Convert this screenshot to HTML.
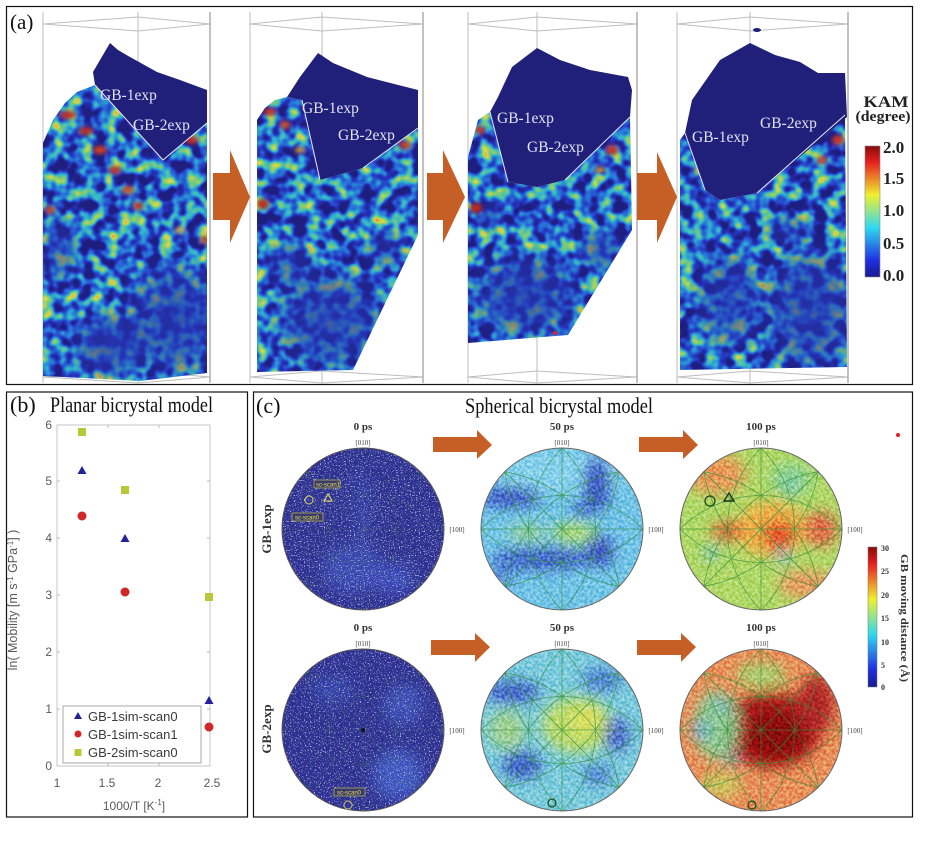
<!DOCTYPE html>
<html><head><meta charset="utf-8"><style>html,body{margin:0;padding:0;background:#fff}svg{display:block}</style></head>
<body>
<svg width="935" height="841" viewBox="0 0 935 841" xmlns="http://www.w3.org/2000/svg" xmlns:xlink="http://www.w3.org/1999/xlink">
<defs>
<filter id="kam1" x="0" y="0" width="1" height="1" color-interpolation-filters="sRGB">
<feTurbulence type="fractalNoise" baseFrequency="0.075" numOctaves="2" seed="3"/>
<feColorMatrix type="matrix" values="1.35 0 0 0 -0.45 1.35 0 0 0 -0.45 1.35 0 0 0 -0.45 0 0 0 0 1"/>
<feComponentTransfer><feFuncR type="table" tableValues="0.12 0.15 0.15 0.2 0.5 0.85 0.9 0.85 0.55"/><feFuncG type="table" tableValues="0.12 0.2 0.45 0.72 0.8 0.85 0.55 0.2 0.05"/><feFuncB type="table" tableValues="0.5 0.75 0.85 0.8 0.45 0.3 0.2 0.15 0.05"/></feComponentTransfer>
</filter>
<filter id="kam2" x="0" y="0" width="1" height="1" color-interpolation-filters="sRGB">
<feTurbulence type="fractalNoise" baseFrequency="0.075" numOctaves="2" seed="8"/>
<feColorMatrix type="matrix" values="1.35 0 0 0 -0.45 1.35 0 0 0 -0.45 1.35 0 0 0 -0.45 0 0 0 0 1"/>
<feComponentTransfer><feFuncR type="table" tableValues="0.12 0.15 0.15 0.2 0.5 0.85 0.9 0.85 0.55"/><feFuncG type="table" tableValues="0.12 0.2 0.45 0.72 0.8 0.85 0.55 0.2 0.05"/><feFuncB type="table" tableValues="0.5 0.75 0.85 0.8 0.45 0.3 0.2 0.15 0.05"/></feComponentTransfer>
</filter>
<filter id="kam3" x="0" y="0" width="1" height="1" color-interpolation-filters="sRGB">
<feTurbulence type="fractalNoise" baseFrequency="0.075" numOctaves="2" seed="15"/>
<feColorMatrix type="matrix" values="1.35 0 0 0 -0.45 1.35 0 0 0 -0.45 1.35 0 0 0 -0.45 0 0 0 0 1"/>
<feComponentTransfer><feFuncR type="table" tableValues="0.12 0.15 0.15 0.2 0.5 0.85 0.9 0.85 0.55"/><feFuncG type="table" tableValues="0.12 0.2 0.45 0.72 0.8 0.85 0.55 0.2 0.05"/><feFuncB type="table" tableValues="0.5 0.75 0.85 0.8 0.45 0.3 0.2 0.15 0.05"/></feComponentTransfer>
</filter>
<filter id="kam4" x="0" y="0" width="1" height="1" color-interpolation-filters="sRGB">
<feTurbulence type="fractalNoise" baseFrequency="0.075" numOctaves="2" seed="27"/>
<feColorMatrix type="matrix" values="1.35 0 0 0 -0.45 1.35 0 0 0 -0.45 1.35 0 0 0 -0.45 0 0 0 0 1"/>
<feComponentTransfer><feFuncR type="table" tableValues="0.12 0.15 0.15 0.2 0.5 0.85 0.9 0.85 0.55"/><feFuncG type="table" tableValues="0.12 0.2 0.45 0.72 0.8 0.85 0.55 0.2 0.05"/><feFuncB type="table" tableValues="0.5 0.75 0.85 0.8 0.45 0.3 0.2 0.15 0.05"/></feComponentTransfer>
</filter>
<filter id="sp1" x="0" y="0" width="1" height="1" color-interpolation-filters="sRGB">
<feTurbulence type="fractalNoise" baseFrequency="0.8" numOctaves="1" seed="11"/>
<feColorMatrix type="matrix" values="0 0 0 0 0.8 0 0 0 0 0.82 0 0 0 0 0.95 6.5 0 0 0 -3.75"/>
</filter>
<filter id="sp2" x="0" y="0" width="1" height="1" color-interpolation-filters="sRGB">
<feTurbulence type="fractalNoise" baseFrequency="0.8" numOctaves="1" seed="19"/>
<feColorMatrix type="matrix" values="0 0 0 0 0.8 0 0 0 0 0.82 0 0 0 0 0.95 6.5 0 0 0 -3.75"/>
</filter>
<filter id="gr" x="0" y="0" width="1" height="1" color-interpolation-filters="sRGB">
<feTurbulence type="fractalNoise" baseFrequency="0.35" numOctaves="2" seed="21"/>
<feColorMatrix type="matrix" values="2.5 0 0 0 -0.75 2.5 0 0 0 -0.75 2.5 0 0 0 -0.75 0 0 0 0 1"/>
</filter>
<filter id="b2" x="-50%" y="-50%" width="200%" height="200%"><feGaussianBlur stdDeviation="2"/></filter>
<filter id="b7" x="-50%" y="-50%" width="200%" height="200%"><feGaussianBlur stdDeviation="7"/></filter>
<linearGradient id="jet" x1="0" y1="1" x2="0" y2="0">
<stop offset="0" stop-color="#1a1a8f"/><stop offset="0.125" stop-color="#1f2fe0"/><stop offset="0.375" stop-color="#30d8f0"/><stop offset="0.625" stop-color="#f0f030"/><stop offset="0.875" stop-color="#e82020"/><stop offset="1" stop-color="#8a0a0a"/>
</linearGradient>
<radialGradient id="dk"><stop offset="0" stop-color="#2535b0" stop-opacity="0.8"/><stop offset="0.55" stop-color="#2535b0" stop-opacity="0.55"/><stop offset="1" stop-color="#2535b0" stop-opacity="0"/></radialGradient>
<clipPath id="cb1"><polygon points="43,143 53,120 65,103 77,92 95,85 163,160 207,123 207,373 140,381 43,376"/></clipPath>
<clipPath id="cb2"><polygon points="257,120 265,108 275,100 287,97 302,100 320,180 363,168 418,128 418,235 353,370 257,372"/></clipPath>
<clipPath id="cb3"><polygon points="468,157 478,120 490,112 508,182 537,187 565,180 630,117 632,230 568,335 468,343"/></clipPath>
<clipPath id="cb4"><polygon points="680,140 685,133 705,190 720,200 757,193 845,115 847,367 680,370"/></clipPath>
<clipPath id="cc"><circle cx="0" cy="0" r="81"/></clipPath>
<g id="pfl" fill="none" stroke="#2f8f3a" stroke-width="0.8">
<path d="M-81,0H81M0,-81V81M-57.3,-57.3L57.3,57.3M-57.3,57.3L57.3,-57.3"/>
<path d="M0,-81A114.6,114.6 0 0 1 0,81M0,-81A114.6,114.6 0 0 0 0,81M-81,0A114.6,114.6 0 0 1 81,0M-81,0A114.6,114.6 0 0 0 81,0"/>
<path d="M57.3,-57.3A140.3,140.3 0 0 1 -57.3,57.3M57.3,-57.3A140.3,140.3 0 0 0 -57.3,57.3M-57.3,-57.3A140.3,140.3 0 0 1 57.3,57.3M-57.3,-57.3A140.3,140.3 0 0 0 57.3,57.3"/>
</g>
</defs>

<rect x="0" y="0" width="935" height="841" fill="#fff"/>

<!-- ===== Panel (a) ===== -->
<g fill="none" stroke="#bdbdbd" stroke-width="1">
<path d="M43,12V383M138,12V383M210,12V383M43,24L138,17L210,24M43,24L138,31L210,24M43,377L138,371L210,377M43,377L138,383L210,377"/>
<path d="M250,12V383M322,12V383M423,12V383M250,24L322,17L423,24M250,24L322,31L423,24M250,377L322,371L423,377M250,377L322,383L423,377"/>
<path d="M468,12V383M537,12V383M637,12V383M468,24L537,17L637,24M468,24L537,31L637,24M468,377L537,371L637,377M468,377L537,383L637,377"/>
<path d="M677,12V383M750,12V383M848,12V383M677,24L750,17L848,24M677,24L750,31L848,24M677,377L750,371L848,377M677,377L750,383L848,377"/>
</g>
<path d="M210,12V383M423,12V383M637,12V383M848,12V383" stroke="#999" stroke-width="1.2" fill="none"/>

<!-- block 1 -->
<g clip-path="url(#cb1)">
<rect x="40" y="80" width="175" height="305" filter="url(#kam1)"/>
<ellipse cx="175" cy="320" rx="60" ry="70" fill="url(#dk)"/>
<ellipse cx="110" cy="345" rx="45" ry="40" fill="url(#dk)"/>
<ellipse cx="60" cy="250" rx="22" ry="40" fill="url(#dk)" opacity="0.7"/>
<g filter="url(#b2)">
<ellipse cx="68" cy="115" rx="8" ry="4" fill="#c83020"/><ellipse cx="86" cy="131" rx="7" ry="4" fill="#c02a18"/><ellipse cx="100" cy="150" rx="7" ry="4" fill="#d04020"/><ellipse cx="115" cy="170" rx="6" ry="4" fill="#c83020"/><ellipse cx="128" cy="190" rx="6" ry="4" fill="#d05020"/><ellipse cx="138" cy="206" rx="5" ry="4" fill="#c83020"/><ellipse cx="192" cy="140" rx="6" ry="4" fill="#c83020"/><ellipse cx="50" cy="210" rx="5" ry="4" fill="#c84020"/><ellipse cx="180" cy="230" rx="5" ry="3" fill="#d8a030"/><ellipse cx="205" cy="240" rx="5" ry="4" fill="#c84020"/>
</g>
</g>
<polygon points="110,43 118,50 130,57 157,72 180,80 207,90 207,123 163,160 95,85 93,72 100,60" fill="#20207a"/>
<path d="M95,85L163,160L207,123" stroke="#e6e6f6" stroke-width="1" fill="none"/>

<!-- block 2 -->
<g clip-path="url(#cb2)">
<rect x="250" y="90" width="175" height="290" filter="url(#kam2)"/>
<ellipse cx="330" cy="320" rx="65" ry="60" fill="url(#dk)"/>
<ellipse cx="290" cy="265" rx="30" ry="30" fill="url(#dk)" opacity="0.7"/>
<ellipse cx="385" cy="250" rx="25" ry="25" fill="url(#dk)" opacity="0.6"/>
<g filter="url(#b2)">
<ellipse cx="263" cy="204" rx="6" ry="5" fill="#c02a18"/><ellipse cx="270" cy="112" rx="6" ry="4" fill="#c83020"/><ellipse cx="285" cy="125" rx="5" ry="4" fill="#d05020"/><ellipse cx="405" cy="145" rx="6" ry="4" fill="#c84020"/><ellipse cx="300" cy="150" rx="5" ry="3" fill="#d8a030"/>
</g>
</g>
<polygon points="318,53 333,63 367,77 418,90 418,128 363,168 320,180 302,100 287,97 300,77" fill="#20207a"/>
<path d="M302,100L320,180M363,168L418,128" stroke="#e6e6f6" stroke-width="1" fill="none"/>

<!-- block 3 -->
<g clip-path="url(#cb3)">
<rect x="465" y="100" width="175" height="250" filter="url(#kam3)"/>
<ellipse cx="525" cy="295" rx="65" ry="50" fill="url(#dk)"/>
<ellipse cx="600" cy="250" rx="28" ry="25" fill="url(#dk)" opacity="0.8"/>
<ellipse cx="490" cy="215" rx="16" ry="20" fill="url(#dk)" opacity="0.6"/>
<g filter="url(#b2)">
<ellipse cx="476" cy="208" rx="6" ry="5" fill="#c02a18"/><ellipse cx="612" cy="150" rx="6" ry="5" fill="#c83020"/><ellipse cx="480" cy="130" rx="5" ry="4" fill="#c84020"/><ellipse cx="600" cy="170" rx="5" ry="3" fill="#d8a030"/>
</g>
</g>
<polygon points="537,48 560,60 590,70 628,77 632,90 630,117 565,180 537,187 508,182 490,112 498,97 512,67" fill="#20207a"/>
<path d="M490,112L508,182M565,180L630,117" stroke="#e6e6f6" stroke-width="1" fill="none"/>
<circle cx="555" cy="333" r="2" fill="#e02020"/>

<!-- block 4 -->
<g clip-path="url(#cb4)">
<rect x="675" y="105" width="175" height="270" filter="url(#kam4)"/>
<ellipse cx="810" cy="310" rx="55" ry="75" fill="url(#dk)"/>
<ellipse cx="730" cy="300" rx="42" ry="60" fill="url(#dk)" opacity="0.85"/>
<ellipse cx="790" cy="230" rx="30" ry="20" fill="url(#dk)" opacity="0.6"/>
<g filter="url(#b2)">
<ellipse cx="838" cy="140" rx="6" ry="5" fill="#c83020"/><ellipse cx="822" cy="160" rx="5" ry="4" fill="#d05020"/><ellipse cx="700" cy="170" rx="5" ry="4" fill="#d8a030"/>
</g>
</g>
<polygon points="750,43 775,55 800,62 818,73 845,73 847,117 757,193 720,200 705,190 685,133 692,100 720,60" fill="#20207a"/>
<ellipse cx="757" cy="30" rx="4" ry="2" fill="#20207a"/>
<path d="M685,133L705,190M757,193L845,115" stroke="#e6e6f6" stroke-width="1" fill="none"/>

<g font-family="'Liberation Serif', serif" font-size="15.5" fill="#e2e2f4">
<text x="100" y="100">GB-1exp</text><text x="133" y="130">GB-2exp</text>
<text x="302" y="113">GB-1exp</text><text x="338" y="140">GB-2exp</text>
<text x="497" y="123">GB-1exp</text><text x="527" y="152">GB-2exp</text>
<text x="692" y="142">GB-1exp</text><text x="760" y="128">GB-2exp</text>
</g>

<g fill="#c65f26">
<polygon points="213,173 230,173 230,150 250,197 230,243 230,220 213,220"/>
<polygon points="427,173 443,173 443,150 465,197 443,243 443,220 427,220"/>
<polygon points="637,173 657,173 657,152 677,197 657,243 657,220 637,220"/>
</g>

<!-- KAM colorbar -->
<rect x="865" y="146" width="15" height="131" fill="url(#jet)" stroke="#888" stroke-width="0.6"/>
<g font-family="'Liberation Serif', serif" font-weight="bold" fill="#222">
<text x="886" y="107" font-size="16" text-anchor="middle" textLength="45" lengthAdjust="spacingAndGlyphs">KAM</text>
<text x="883" y="121" font-size="15" text-anchor="middle" textLength="55" lengthAdjust="spacingAndGlyphs">(degree)</text>
<g font-size="17">
<text x="883" y="153">2.0</text><text x="883" y="184">1.5</text><text x="883" y="216">1.0</text><text x="883" y="249">0.5</text><text x="883" y="281">0.0</text>
</g>
</g>
<text x="10" y="29" font-family="'Liberation Serif', serif" font-size="21" fill="#111">(a)</text>

<!-- ===== Panel (b) ===== -->
<text x="10" y="412" font-family="'Liberation Serif', serif" font-size="22" fill="#111">(b)</text>
<text x="50" y="412" font-family="'Liberation Serif', serif" font-size="22" fill="#111" textLength="163" lengthAdjust="spacingAndGlyphs">Planar bicrystal model</text>
<rect x="57" y="425" width="153" height="341" fill="none" stroke="#c4c4c4" stroke-width="1"/>
<g stroke="#bbb" stroke-width="1">
<path d="M57,709h3M57,652h3M57,595h3M57,538h3M57,481h3M210,709h-3M210,652h-3M210,595h-3M210,538h-3M210,481h-3M108,766v-3M159,766v-3M108,425v3M159,425v3"/>
</g>
<g font-family="'Liberation Sans', sans-serif" font-size="12" fill="#5a5a5a" text-anchor="end">
<text x="52" y="770">0</text><text x="52" y="713">1</text><text x="52" y="656">2</text><text x="52" y="599">3</text><text x="52" y="542">4</text><text x="52" y="485">5</text><text x="52" y="429">6</text>
</g>
<g font-family="'Liberation Sans', sans-serif" font-size="12" fill="#5a5a5a" text-anchor="middle">
<text x="57" y="787">1</text><text x="107" y="787">1.5</text><text x="158" y="787">2</text><text x="212" y="787">2.5</text>
<text x="134" y="810">1000/T [K<tspan dy="-5" font-size="8">-1</tspan><tspan dy="5">]</tspan></text>
</g>
<text transform="translate(17,600) rotate(-90)" text-anchor="middle" font-family="'Liberation Sans', sans-serif" font-size="12.5" fill="#5a5a5a">ln( Mobility [m s<tspan dy="-4" font-size="8">-1</tspan><tspan dy="4"> GPa</tspan><tspan dy="-4" font-size="8">-1</tspan><tspan dy="4">] )</tspan></text>
<!-- markers -->
<g fill="#b8c838"><rect x="78" y="428" width="8" height="8"/><rect x="121" y="486" width="8" height="8"/><rect x="205" y="593" width="8" height="8"/></g>
<g fill="#22229a"><polygon points="82,466 86.5,474 77.5,474"/><polygon points="125,534 129.5,542 120.5,542"/><polygon points="209,696 213.5,704 204.5,704"/></g>
<g fill="#d02828"><circle cx="82" cy="516" r="4.5"/><circle cx="125" cy="592" r="4.5"/><circle cx="209" cy="727" r="4.5"/></g>
<!-- legend -->
<rect x="63" y="706" width="138" height="57" fill="#fff" stroke="#a8a8a8" stroke-width="1"/>
<polygon points="78,712 82,719 74,719" fill="#22229a"/>
<circle cx="78" cy="734" r="3.5" fill="#d02828"/>
<rect x="74.5" y="749" width="7" height="7" fill="#b8c838"/>
<g font-family="'Liberation Sans', sans-serif" font-size="13" fill="#3a3a3a">
<text x="88" y="721">GB-1sim-scan0</text><text x="88" y="739">GB-1sim-scan1</text><text x="88" y="757">GB-2sim-scan0</text>
</g>

<!-- ===== Panel (c) ===== -->
<text x="256" y="413" font-family="'Liberation Serif', serif" font-size="22" fill="#111">(c)</text>
<text x="465" y="413" font-family="'Liberation Serif', serif" font-size="22" fill="#111" textLength="188" lengthAdjust="spacingAndGlyphs">Spherical bicrystal model</text>

<!-- PF 0ps row1 -->
<g transform="translate(363,529)">
<g clip-path="url(#cc)">
<rect x="-85" y="-85" width="170" height="170" fill="#2d3090"/>
<g filter="url(#b7)"><ellipse cx="-10" cy="40" rx="30" ry="25" fill="#3846b0"/><ellipse cx="30" cy="50" rx="20" ry="15" fill="#3a4ab8"/><ellipse cx="0" cy="-20" rx="8" ry="40" fill="#3440a8"/></g>
<rect x="-85" y="-85" width="170" height="170" filter="url(#sp1)"/>
</g>
<use xlink:href="#pfl" opacity="0.2"/>
<circle r="81" fill="none" stroke="#555" stroke-width="1"/>
</g>
<!-- PF 0ps row2 -->
<g transform="translate(363,730)">
<g clip-path="url(#cc)">
<rect x="-85" y="-85" width="170" height="170" fill="#2d3090"/>
<g filter="url(#b7)"><ellipse cx="35" cy="45" rx="25" ry="25" fill="#3c55c0"/><ellipse cx="40" cy="-25" rx="20" ry="20" fill="#3a4cb5"/><ellipse cx="-30" cy="-40" rx="20" ry="15" fill="#3542aa"/></g>
<rect x="-85" y="-85" width="170" height="170" filter="url(#sp2)"/>
</g>
<use xlink:href="#pfl" opacity="0.2"/>
<circle r="81" fill="none" stroke="#555" stroke-width="1"/>
<circle cx="0" cy="0" r="2" fill="#111"/>
</g>
<!-- PF 50ps row1 -->
<g transform="translate(562,529)">
<g clip-path="url(#cc)">
<rect x="-85" y="-85" width="170" height="170" fill="#72c4e6"/>
<g filter="url(#b7)">
<ellipse cx="0" cy="-58" rx="70" ry="22" fill="#86d0ea"/>
<ellipse cx="-52" cy="-32" rx="32" ry="10" fill="#3d55c2"/>
<ellipse cx="35" cy="-45" rx="13" ry="28" fill="#3d55c2"/>
<ellipse cx="20" cy="-20" rx="10" ry="8" fill="#4a6ad0"/>
<ellipse cx="-20" cy="30" rx="50" ry="11" fill="#4262c8"/>
<ellipse cx="38" cy="22" rx="14" ry="16" fill="#3d55c2"/>
<ellipse cx="12" cy="4" rx="22" ry="10" fill="#b0dc70"/>
<ellipse cx="-35" cy="4" rx="20" ry="8" fill="#98d098"/>
<ellipse cx="-62" cy="48" rx="15" ry="10" fill="#5a8ad8"/>
</g>
<rect x="-85" y="-85" width="170" height="170" filter="url(#gr)" style="mix-blend-mode:overlay" opacity="0.35"/>
</g>
<use xlink:href="#pfl" opacity="0.75"/>
<circle r="81" fill="none" stroke="#666" stroke-width="1"/>
</g>
<!-- PF 50ps row2 -->
<g transform="translate(562,730)">
<g clip-path="url(#cc)">
<rect x="-85" y="-85" width="170" height="170" fill="#7ccbdc"/>
<g filter="url(#b7)">
<ellipse cx="15" cy="-5" rx="35" ry="28" fill="#c0dc6c"/>
<ellipse cx="25" cy="-10" rx="15" ry="12" fill="#e0e060"/>
<ellipse cx="-50" cy="-38" rx="28" ry="11" fill="#4262c8"/>
<ellipse cx="40" cy="-50" rx="20" ry="12" fill="#5080d0"/>
<ellipse cx="55" cy="5" rx="12" ry="18" fill="#4a66c8"/>
<ellipse cx="-40" cy="35" rx="20" ry="14" fill="#4262c8"/>
<ellipse cx="35" cy="45" rx="15" ry="10" fill="#5080d0"/>
<ellipse cx="-55" cy="0" rx="18" ry="20" fill="#a0d090"/>
</g>
<rect x="-85" y="-85" width="170" height="170" filter="url(#gr)" style="mix-blend-mode:overlay" opacity="0.35"/>
</g>
<use xlink:href="#pfl" opacity="0.75"/>
<circle r="81" fill="none" stroke="#666" stroke-width="1"/>
<circle cx="-10" cy="73" r="4" fill="none" stroke="#1a4a1a" stroke-width="1.2"/>
</g>
<!-- PF 100ps row1 -->
<g transform="translate(761,529)">
<g clip-path="url(#cc)">
<rect x="-85" y="-85" width="170" height="170" fill="#b0d868"/>
<g filter="url(#b7)">
<ellipse cx="-45" cy="-55" rx="30" ry="20" fill="#e89858"/>
<ellipse cx="10" cy="0" rx="35" ry="28" fill="#f0b048"/>
<ellipse cx="18" cy="6" rx="16" ry="14" fill="#e04828"/>
<ellipse cx="-33" cy="2" rx="16" ry="9" fill="#e05a30"/>
<ellipse cx="60" cy="0" rx="16" ry="18" fill="#e06848"/>
<ellipse cx="45" cy="55" rx="28" ry="14" fill="#e89a60"/>
<ellipse cx="30" cy="-50" rx="20" ry="15" fill="#88d098"/>
<circle cx="-50" cy="24" r="6" fill="#50a8e0"/><circle cx="22" cy="28" r="6" fill="#50b0e0"/><circle cx="30" cy="-40" r="5" fill="#5ab8d8"/>
</g>
<rect x="-85" y="-85" width="170" height="170" filter="url(#gr)" style="mix-blend-mode:overlay" opacity="0.35"/>
</g>
<use xlink:href="#pfl" opacity="0.75"/>
<circle r="81" fill="none" stroke="#666" stroke-width="1"/>
<circle cx="-51" cy="-28" r="5" fill="none" stroke="#1a4a1a" stroke-width="1.3"/>
<polygon points="-32,-36 -27,-28 -37,-28" fill="none" stroke="#1a3a1a" stroke-width="1.5"/>
</g>
<!-- PF 100ps row2 -->
<g transform="translate(761,730)">
<g clip-path="url(#cc)">
<rect x="-85" y="-85" width="170" height="170" fill="#e8905a"/>
<g filter="url(#b7)">
<ellipse cx="10" cy="0" rx="50" ry="38" fill="#a81818"/>
<ellipse cx="15" cy="5" rx="30" ry="22" fill="#8a0a0a"/>
<ellipse cx="55" cy="-25" rx="18" ry="30" fill="#b02828"/>
<ellipse cx="-45" cy="-5" rx="22" ry="35" fill="#90c890"/>
<circle cx="-60" cy="0" r="8" fill="#58a8e0"/><circle cx="-40" cy="-25" r="6" fill="#60b0d8"/><circle cx="-30" cy="30" r="5" fill="#58a8e0"/>
<ellipse cx="0" cy="-55" rx="25" ry="12" fill="#a8d070"/>
<ellipse cx="-40" cy="55" rx="20" ry="12" fill="#c8c860"/>
</g>
<rect x="-85" y="-85" width="170" height="170" filter="url(#gr)" style="mix-blend-mode:overlay" opacity="0.35"/>
</g>
<use xlink:href="#pfl" opacity="0.75"/>
<circle r="81" fill="none" stroke="#666" stroke-width="1"/>
<circle cx="-9" cy="75" r="4" fill="none" stroke="#1a4a1a" stroke-width="1.2"/>
</g>

<!-- markers / labels on 0ps -->
<g font-family="'Liberation Sans', sans-serif" font-size="6" fill="#e8e040">
<rect x="314" y="480" width="26" height="8" fill="#3a3a70" stroke="#d8d040" stroke-width="0.6"/>
<text x="316" y="486.5">sc-scan1</text>
<rect x="292" y="513" width="31" height="8" fill="#3a3a70" stroke="#d8d040" stroke-width="0.6"/>
<text x="295" y="519.5">sc-scan0</text>
<rect x="334" y="788" width="31" height="8" fill="#3a3a70" stroke="#d8d040" stroke-width="0.6"/>
<text x="337" y="794.5">sc-scan0</text>
</g>
<circle cx="309" cy="500" r="4" fill="none" stroke="#d8d860" stroke-width="1"/>
<polygon points="328,494 332,501 324,501" fill="none" stroke="#e8e060" stroke-width="1"/>
<circle cx="348" cy="805" r="4" fill="none" stroke="#c8c860" stroke-width="1"/>

<!-- titles -->
<g font-family="'Liberation Serif', serif" font-weight="bold" fill="#333" text-anchor="middle">
<text x="363" y="430" font-size="11">0 ps</text><text x="562" y="430" font-size="11">50 ps</text><text x="761" y="430" font-size="11">100 ps</text>
<text x="363" y="631" font-size="11">0 ps</text><text x="562" y="631" font-size="11">50 ps</text><text x="761" y="631" font-size="11">100 ps</text>
<g font-size="7" font-weight="normal" fill="#444">
<text x="363" y="445">[010]</text><text x="562" y="445">[010]</text><text x="761" y="445">[010]</text>
<text x="363" y="646">[010]</text><text x="562" y="646">[010]</text><text x="761" y="646">[010]</text>
<text x="457" y="532">[100]</text><text x="656" y="532">[100]</text><text x="855" y="532">[100]</text>
<text x="457" y="733">[100]</text><text x="656" y="733">[100]</text><text x="855" y="733">[100]</text>
</g>
<text transform="translate(271,529) rotate(-90)" font-size="13">GB-1exp</text>
<text transform="translate(271,729) rotate(-90)" font-size="13">GB-2exp</text>
</g>

<g fill="#c65f26">
<polygon points="433,437 477,437 477,430 492,445 477,459 477,452 433,452"/>
<polygon points="639,437 683,437 683,430 698,445 683,459 683,452 639,452"/>
<polygon points="431,640 475,640 475,633 490,647 475,662 475,655 431,655"/>
<polygon points="637,640 681,640 681,633 696,647 681,662 681,655 637,655"/>
</g>

<!-- GB distance colorbar -->
<rect x="868" y="547" width="9" height="140" fill="url(#jet)" stroke="#777" stroke-width="0.5"/>
<g font-family="'Liberation Serif', serif" font-weight="bold" font-size="8" fill="#333">
<text x="881" y="551">30</text><text x="881" y="574">25</text><text x="881" y="598">20</text><text x="881" y="621">15</text><text x="881" y="645">10</text><text x="881" y="668">5</text><text x="881" y="690">0</text>
</g>
<text transform="translate(901,618) rotate(90)" text-anchor="middle" font-family="'Liberation Serif', serif" font-weight="bold" font-size="11" fill="#333" textLength="128" lengthAdjust="spacingAndGlyphs">GB moving distance (Å)</text>
<circle cx="898" cy="435" r="2" fill="#e02020"/>

<!-- panel frames -->
<g fill="none" stroke="#111" stroke-width="1.2">
<rect x="6.5" y="6.5" width="906" height="378"/>
<rect x="6.5" y="392" width="241" height="425"/>
<rect x="253.5" y="392" width="659" height="425"/>
</g>
</svg>
</body></html>
